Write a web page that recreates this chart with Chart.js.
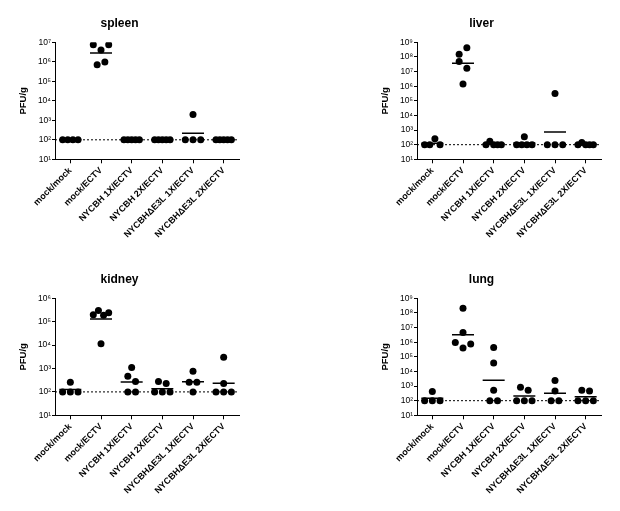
<!DOCTYPE html>
<html>
<head>
<meta charset="utf-8">
<script src="https://cdn.jsdelivr.net/npm/chart.js@4.4.1/dist/chart.umd.min.js"></script>
<style>
  html, body { margin: 0; padding: 0; background: #fff; overflow: hidden; }
  .panel { position: absolute; width: 270px; height: 255px; }
</style>
</head>
<body>
<div class="panel" style="left:0px;top:0px"><canvas id="spleen"></canvas></div>
<div class="panel" style="left:362px;top:0px"><canvas id="liver"></canvas></div>
<div class="panel" style="left:0px;top:256px"><canvas id="kidney"></canvas></div>
<div class="panel" style="left:362px;top:256px"><canvas id="lung"></canvas></div>
<script>
const categories = ['mock/mock', 'mock/ECTV', 'NYCBH 1X/ECTV', 'NYCBH 2X/ECTV', 'NYCBHΔE3L 1X/ECTV', 'NYCBHΔE3L 2X/ECTV'];
const decadeValues = [1e1, 1e2, 1e3, 1e4, 1e5, 1e6, 1e7, 1e8, 1e9];
const decadeLabels = ['10¹', '10²', '10³', '10⁴', '10⁵', '10⁶', '10⁷', '10⁸', '10⁹'];
const detectionLimit = 100;

// PFU/g per mouse, one list per group (same order as categories)
const spleenValues = [
  [100, 100, 100, 100],
  [7.5e6, 4.0e6, 7.5e6, 7.1e5, 9.8e5],
  [100, 100, 100, 100, 100],
  [100, 100, 100, 100, 100],
  [100, 2000, 100, 100],
  [100, 100, 100, 100, 100]
];
const spleenMeans = [100, 2.8e6, 100, 100, 215, 100];

const liverValues = [
  [100, 100, 250, 100],
  [4.9e7, 1.5e8, 4.3e8, 1.7e7, 1.4e6],
  [100, 170, 100, 100, 100],
  [100, 100, 350, 100, 100],
  [100, 3.1e5, 100, 100],
  [100, 140, 100, 100, 100]
];
const liverMeans = [125, 3.7e7, 111, 128, 750, 107];

const kidneyValues = [
  [100, 260, 100, 100],
  [2.0e5, 3.0e5, 1.9e5, 2.4e5, 1.15e4],
  [470, 1100, 280, 100, 100],
  [280, 230, 100, 100, 100],
  [260, 760, 260, 100],
  [3000, 230, 100, 100, 100]
];
const kidneyMeans = [126, 1.3e5, 265, 138, 270, 235];

const lungValues = [
  [100, 430, 100, 100],
  [2.1e8, 4.6e6, 9.5e5, 4.0e5, 7.4e5],
  [4.4e5, 3.8e4, 510, 100, 100],
  [830, 510, 100, 100, 100],
  [2400, 450, 100, 100],
  [510, 450, 100, 100, 100]
];
const lungMeans = [145, 3.2e6, 2500, 210, 320, 185];

Chart.defaults.font.family = "'Liberation Sans', Arial, 'DejaVu Sans', sans-serif";
Chart.defaults.color = '#000';

const plotW = 184, plotH = 117;
const dotSize = 7, rowStep = 7.7;

// spread dots that would overlap sideways, like a prism column scatter
function spreadPoints(groups, maxValue) {
  const pxPerDecade = plotH / (Math.log10(maxValue) - 1);
  const pxPerGroup = plotW / categories.length;
  const pts = [];
  groups.forEach((vals, g) => {
    const order = vals.map((v, i) => ({ v, i, y: Math.log10(v) * pxPerDecade }))
      .sort((a, b) => b.v - a.v);
    const rows = [];
    order.forEach(p => {
      const row = rows[rows.length - 1];
      if (row && row.anchor - p.y < dotSize) row.items.push(p);
      else rows.push({ anchor: p.y, items: [p] });
    });
    rows.forEach(row => {
      row.items.sort((a, b) => a.i - b.i);
      const n = row.items.length;
      const step = n > 1 ? Math.min(rowStep, 2 * rowStep / (n - 1)) : 0;
      row.items.forEach((p, k) => {
        pts.push({ x: g + (k - (n - 1) / 2) * step / pxPerGroup, y: p.v });
      });
    });
  });
  return pts;
}

const limitLine = {
  id: 'limitLine',
  beforeDatasetsDraw(chart) {
    const { ctx, chartArea, scales } = chart;
    const y = scales.y.getPixelForValue(detectionLimit);
    ctx.save();
    ctx.strokeStyle = '#000';
    ctx.lineWidth = 1;
    ctx.setLineDash([2, 2]);
    ctx.beginPath();
    ctx.moveTo(chartArea.left, y);
    ctx.lineTo(chartArea.right, y);
    ctx.stroke();
    ctx.restore();
  }
};

function makePanel(id, title, values, means, maxValue) {
  const ticks = decadeValues.filter(v => v <= maxValue);
  new Chart(document.getElementById(id), {
    type: 'scatter',
    data: {
      datasets: [
        {
          data: means.map((m, i) => ({ x: i, y: m })),
          pointStyle: 'line',
          pointRadius: 11,
          pointHoverRadius: 11,
          borderColor: '#000',
          borderWidth: 1.5,
          pointBorderWidth: 1.5
        },
        {
          data: spreadPoints(values, maxValue),
          pointRadius: 3.5,
          pointHoverRadius: 3.5,
          backgroundColor: '#000',
          borderWidth: 0
        }
      ]
    },
    options: {
      responsive: true,
      maintainAspectRatio: false,
      animation: false,
      layout: { padding: { left: 0, right: 31, top: 0, bottom: 0 } },
      plugins: {
        legend: { display: false },
        tooltip: { enabled: false },
        title: {
          display: true,
          text: title,
          color: '#000',
          font: { size: 12, weight: 'bold' },
          padding: { top: 16.8, bottom: 11.1 }
        }
      },
      scales: {
        x: {
          type: 'linear',
          min: -0.5,
          max: 5.5,
          afterBuildTicks: s => { s.ticks = categories.map((c, i) => ({ value: i })); },
          afterFit: s => { s.height = 95.7; },
          ticks: {
            callback: v => categories[v],
            autoSkip: false,
            minRotation: 45,
            maxRotation: 45,
            padding: 2,
            color: '#000',
            font: { size: 9, weight: 'bold' }
          },
          grid: { drawOnChartArea: false, drawTicks: true, tickLength: 4, color: '#000' },
          border: { color: '#000', width: 1 }
        },
        y: {
          type: 'logarithmic',
          min: 10,
          max: maxValue,
          afterBuildTicks: s => { s.ticks = ticks.map(v => ({ value: v })); },
          afterFit: s => { s.width = 55; },
          ticks: {
            callback: v => decadeLabels[Math.round(Math.log10(v)) - 1],
            padding: 1,
            color: '#000',
            font: { size: 8.5 }
          },
          grid: { drawOnChartArea: false, drawTicks: true, tickLength: 3, color: '#000' },
          border: { color: '#000', width: 1 },
          title: {
            display: true,
            text: 'PFU/g',
            color: '#000',
            font: { size: 9.5, weight: 'bold' },
            padding: { top: 17.6, bottom: 0 }
          }
        }
      }
    },
    plugins: [limitLine]
  });
}

makePanel('spleen', 'spleen', spleenValues, spleenMeans, 1e7);
makePanel('liver', 'liver', liverValues, liverMeans, 1e9);
makePanel('kidney', 'kidney', kidneyValues, kidneyMeans, 1e6);
makePanel('lung', 'lung', lungValues, lungMeans, 1e9);
</script>
</body>
</html>
